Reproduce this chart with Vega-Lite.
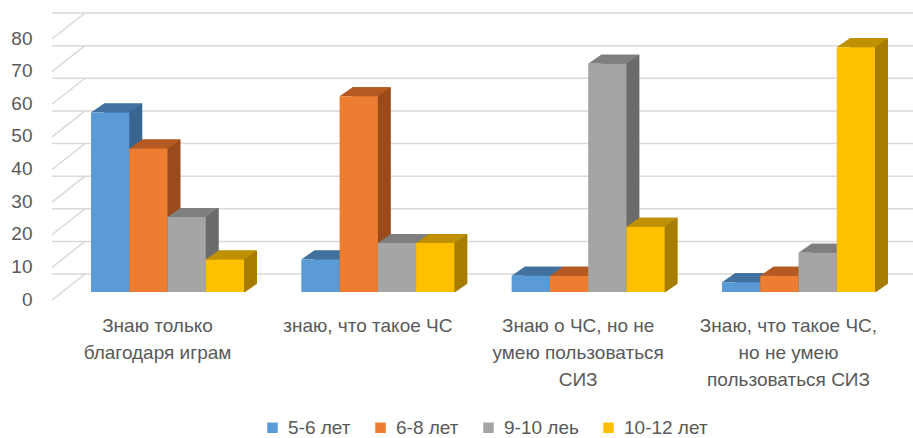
{
  "$schema": "https://vega.github.io/schema/vega-lite/v6.json",
  "width": 862,
  "height": 261,
  "autosize": {"type": "none"},
  "padding": {"left": 52, "top": 31, "right": 0, "bottom": 146},
  "background": "white",
  "config": {
    "view": {"stroke": null},
    "font": "Liberation Sans",
    "axis": {
      "domain": false,
      "ticks": false,
      "grid": false,
      "title": null,
      "labelOverlap": false,
      "labelFontSize": 19,
      "labelColor": "#595959"
    },
    "axisY": {
      "values": [0, 10, 20, 30, 40, 50, 60, 70, 80],
      "labelPadding": 20,
      "labelOffset": 7
    },
    "axisX": {
      "labelAngle": 0,
      "labelAlign": "center",
      "labelBaseline": "top",
      "labelLineHeight": 27,
      "labelPadding": 24,
      "labelOffset": -10
    },
    "legend": {"labelFont": "Liberation Sans"}
  },
  "datasets": {
    "survey": [
      {"answer": "Знаю только\nблагодаря играм", "age": "5-6 лет", "pct": 55},
      {"answer": "Знаю только\nблагодаря играм", "age": "6-8 лет", "pct": 44},
      {"answer": "Знаю только\nблагодаря играм", "age": "9-10 леь", "pct": 23},
      {"answer": "Знаю только\nблагодаря играм", "age": "10-12 лет", "pct": 10},
      {"answer": "знаю, что такое ЧС", "age": "5-6 лет", "pct": 10},
      {"answer": "знаю, что такое ЧС", "age": "6-8 лет", "pct": 60},
      {"answer": "знаю, что такое ЧС", "age": "9-10 леь", "pct": 15},
      {"answer": "знаю, что такое ЧС", "age": "10-12 лет", "pct": 15},
      {"answer": "Знаю о ЧС, но не\nумею пользоваться\nСИЗ", "age": "5-6 лет", "pct": 5},
      {"answer": "Знаю о ЧС, но не\nумею пользоваться\nСИЗ", "age": "6-8 лет", "pct": 5},
      {"answer": "Знаю о ЧС, но не\nумею пользоваться\nСИЗ", "age": "9-10 леь", "pct": 70},
      {"answer": "Знаю о ЧС, но не\nумею пользоваться\nСИЗ", "age": "10-12 лет", "pct": 20},
      {"answer": "Знаю, что такое ЧС,\nно не умею\nпользоваться СИЗ", "age": "5-6 лет", "pct": 3},
      {"answer": "Знаю, что такое ЧС,\nно не умею\nпользоваться СИЗ", "age": "6-8 лет", "pct": 5},
      {"answer": "Знаю, что такое ЧС,\nно не умею\nпользоваться СИЗ", "age": "9-10 леь", "pct": 12},
      {"answer": "Знаю, что такое ЧС,\nно не умею\nпользоваться СИЗ", "age": "10-12 лет", "pct": 75}
    ],
    "gridValues": [
      {"pct": 0}, {"pct": 10}, {"pct": 20}, {"pct": 30}, {"pct": 40},
      {"pct": 50}, {"pct": 60}, {"pct": 70}, {"pct": 80}
    ]
  },
  "layer": [
    {
      "description": "back-wall gridlines",
      "data": {"name": "gridValues"},
      "mark": {"type": "rule", "color": "#D9D9D9", "strokeWidth": 1.5, "xOffset": 33, "yOffset": -18},
      "encoding": {
        "y": {
          "field": "pct",
          "type": "quantitative",
          "scale": {"domain": [0, 80], "nice": false, "zero": true}
        }
      }
    },
    {
      "description": "floor-side gridlines running back to the wall",
      "data": {"name": "gridValues"},
      "mark": {"type": "rule", "color": "#D9D9D9", "strokeWidth": 1.5, "x2Offset": 33, "yOffset": 8, "y2Offset": -18},
      "encoding": {
        "y": {"field": "pct", "type": "quantitative"},
        "y2": {"field": "pct"},
        "x": {"value": 0},
        "x2": {"value": 0}
      }
    },
    {
      "description": "bar side faces: same bars pushed back in depth via a shifted offset range",
      "data": {"name": "survey"},
      "mark": {"type": "bar", "yOffset": -9},
      "encoding": {
        "x": {"field": "answer", "type": "nominal", "sort": null},
        "xOffset": {"field": "age", "sort": null, "scale": {"type": "band", "range": [13, 166], "paddingInner": 0, "paddingOuter": 0}},
        "y": {"field": "pct", "type": "quantitative"},
        "y2": {"datum": 0},
        "color": {
          "field": "age",
          "sort": null,
          "scale": {"domain": ["5-6 лет", "6-8 лет", "9-10 леь", "10-12 лет"], "range": ["#386490", "#9A4A1B", "#6B6B6B", "#A67D00"]},
          "legend": null
        }
      }
    },
    {
      "description": "trim the side face bottom to a slant",
      "data": {"name": "survey"},
      "mark": {"type": "point", "filled": true, "opacity": 1, "size": 4, "strokeWidth": 0, "color": "white",
               "shape": "M19.1,0.8L33.5,0.8L33.5,-9.2Z"},
      "encoding": {
        "x": {"field": "answer", "type": "nominal", "sort": null},
        "xOffset": {"field": "age", "sort": null, "scale": {"type": "band", "paddingInner": 0, "paddingOuter": 0}},
        "y": {"datum": 0}
      }
    },
    {
      "description": "bar top faces",
      "data": {"name": "survey"},
      "mark": {"type": "point", "filled": true, "opacity": 1, "size": 4, "strokeWidth": 0,
               "shape": "M-19.15,0L19.15,0L32.15,-9L-6.15,-9Z"},
      "encoding": {
        "x": {"field": "answer", "type": "nominal", "sort": null},
        "xOffset": {"field": "age", "sort": null, "scale": {"type": "band", "paddingInner": 0, "paddingOuter": 0}},
        "y": {"field": "pct", "type": "quantitative"},
        "color": {
          "field": "age",
          "sort": null,
          "scale": {"domain": ["5-6 лет", "6-8 лет", "9-10 леь", "10-12 лет"], "range": ["#41729F", "#B55A22", "#7F7F7F", "#BF9000"]},
          "legend": null
        }
      }
    },
    {
      "description": "bar front faces",
      "data": {"name": "survey"},
      "mark": {"type": "bar"},
      "encoding": {
        "x": {
          "field": "answer",
          "type": "nominal",
          "sort": null,
          "scale": {"paddingInner": 0.2725, "paddingOuter": 0.1855},
          "axis": {"labelExpr": "split(datum.label, '\\n')"}
        },
        "xOffset": {"field": "age", "sort": null, "scale": {"type": "band", "paddingInner": 0, "paddingOuter": 0}},
        "y": {"field": "pct", "type": "quantitative"},
        "y2": {"datum": 0},
        "color": {
          "field": "age",
          "sort": null,
          "scale": {"domain": ["5-6 лет", "6-8 лет", "9-10 леь", "10-12 лет"], "range": ["#5B9BD5", "#ED7D31", "#A5A5A5", "#FFC000"]},
          "legend": {
            "title": null,
            "orient": "none",
            "legendX": 211,
            "legendY": 387,
            "direction": "horizontal",
            "symbolType": "square",
            "symbolSize": 110,
            "symbolStrokeWidth": 0,
            "labelFontSize": 19,
            "labelColor": "#595959",
            "labelOffset": 6,
            "columnPadding": 20
          }
        }
      }
    }
  ],
  "resolve": {"scale": {"color": "independent", "xOffset": "independent"}}
}
